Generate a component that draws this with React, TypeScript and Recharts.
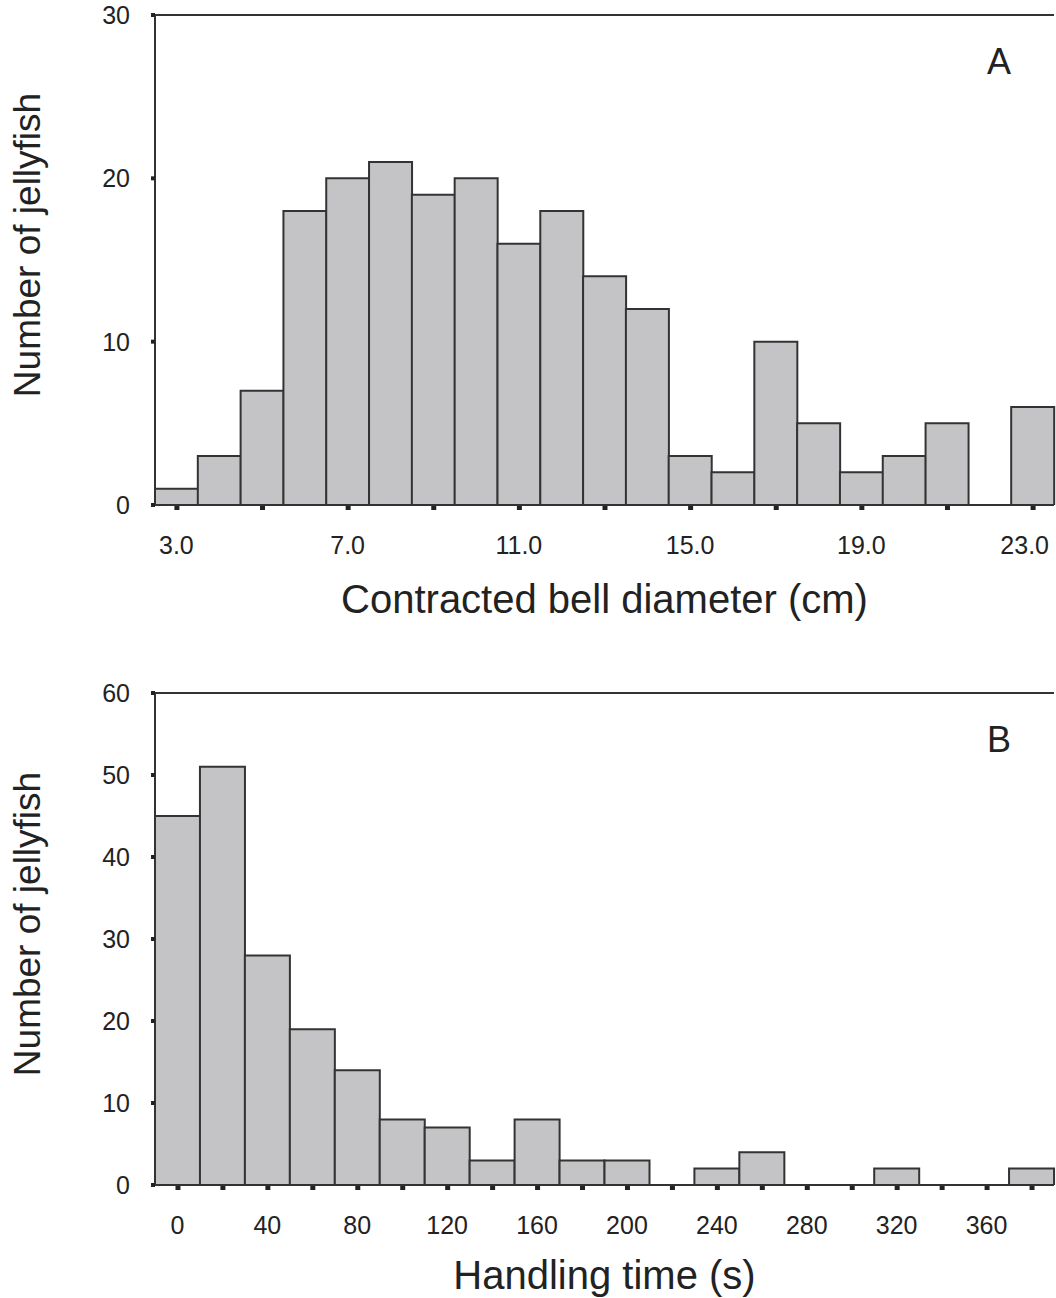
import React from 'react';
import { BarChart, Bar, XAxis, YAxis, ReferenceLine, Label } from 'recharts';

// Panel A: contracted bell diameter, 1 cm bins
const diameterBins = [3, 4, 5, 6, 7, 8, 9, 10, 11, 12, 13, 14, 15, 16, 17, 18, 19, 20, 21, 22, 23];
const diameterCounts = [1, 3, 7, 18, 20, 21, 19, 20, 16, 18, 14, 12, 3, 2, 10, 5, 2, 3, 5, 0, 6];
const diameterTicksY = [0, 10, 20, 30];

// Panel B: handling time, 20 s bins
const handlingBins = [0, 20, 40, 60, 80, 100, 120, 140, 160, 180, 200, 220, 240, 260, 280, 300, 320, 340, 360, 380];
const handlingCounts = [45, 51, 28, 19, 14, 8, 7, 3, 8, 3, 3, 0, 2, 4, 0, 0, 2, 0, 0, 2];
const handlingTicksY = [0, 10, 20, 30, 40, 50, 60];

const FONT = '"Liberation Sans", Arial, sans-serif';
const INK = '#222';
const BAR_FILL = '#c4c4c6';
const BAR_STROKE = '#333';
const TICK_FONT = 25;

const diameterData = diameterBins.map((bin, i) => ({ bin, count: diameterCounts[i] }));
const handlingData = handlingBins.map((bin, i) => ({ bin, count: handlingCounts[i] }));

const makeTick = (markEvery: number, labelEvery: number, digits: number) => (props: any) => {
  const { x, y, payload, index } = props;
  const label = Number(payload.value).toFixed(digits);
  // rough text width, keeps the last label inside the page like in the figure
  const halfW = (label.length * 0.52 * TICK_FONT) / 2;
  const overflow = x + halfW > 1050;
  return (
    <g>
      {index % markEvery === 0 && <rect x={x - 2} y={y + 1} width={5} height={4} fill={INK} />}
      {index % labelEvery === 0 && (
        <text
          x={overflow ? 1049 : x}
          y={y + 40}
          textAnchor={overflow ? 'end' : 'middle'}
          dominantBaseline="central"
          fontSize={TICK_FONT}
          fill={INK}
          fontFamily={FONT}
        >
          {label}
        </text>
      )}
    </g>
  );
};

const xTitle = (text: string, dy: number) => (props: any) => {
  const vb = props.viewBox;
  return (
    <text x={vb.x + vb.width / 2} y={vb.y + dy} textAnchor="middle" dominantBaseline="central" fontSize={40} fill={INK} fontFamily={FONT}>
      {text}
    </text>
  );
};

const yTitle = (props: any) => {
  const vb = props.viewBox;
  const cx = 27;
  const cy = vb.y + vb.height / 2 - 15;
  return (
    <text x={cx} y={cy} transform={`rotate(-90, ${cx}, ${cy})`} textAnchor="middle" dominantBaseline="central" fontSize={37} fill={INK} fontFamily={FONT}>
      Number of jellyfish
    </text>
  );
};

interface PanelProps {
  data: { bin: number; count: number }[];
  yMax: number;
  yTicks: number[];
  height: number;
  plotHeight: number;
  tick: (p: any) => React.ReactElement;
  title: string;
  titleDy: number;
}

const Panel: React.FC<PanelProps> = ({ data, yMax, yTicks, height, plotHeight, tick, title, titleDy }) => (
  <BarChart
    width={1056}
    height={height}
    data={data}
    margin={{ top: 15, right: 2, bottom: 0, left: 0 }}
    barCategoryGap={0}
    barGap={0}
  >
    <XAxis
      dataKey="bin"
      interval={0}
      height={height - 15 - plotHeight}
      axisLine={{ stroke: BAR_STROKE, strokeWidth: 2 }}
      tickLine={false}
      tickSize={0}
      tickMargin={0}
      tick={tick}
    >
      <Label content={xTitle(title, titleDy)} />
    </XAxis>
    <YAxis
      domain={[0, yMax]}
      ticks={yTicks}
      allowDataOverflow
      width={155}
      axisLine={{ stroke: BAR_STROKE, strokeWidth: 2 }}
      tickLine={{ stroke: INK, strokeWidth: 4 }}
      tickSize={4}
      tickMargin={21}
      tick={{ fontSize: 25, fill: INK, fontFamily: FONT }}
    >
      <Label content={yTitle} />
    </YAxis>
    <YAxis yAxisId="frame" orientation="right" width={0} tick={false} tickLine={false} axisLine={{ stroke: '#888', strokeWidth: 2 }} />
    <ReferenceLine y={yMax} stroke={BAR_STROKE} strokeWidth={2} ifOverflow="visible" />
    <Bar dataKey="count" fill={BAR_FILL} stroke={BAR_STROKE} strokeWidth={2} isAnimationActive={false} />
  </BarChart>
);

const letterStyle: React.CSSProperties = {
  position: 'absolute',
  fontFamily: FONT,
  fontSize: 36,
  color: INK,
  lineHeight: '36px',
};

export default function App() {
  return (
    <div style={{ position: 'absolute', left: 0, top: 0, width: 1056, height: 1298, background: '#fff' }}>
      <div style={{ position: 'absolute', left: 0, top: 0 }}>
        <Panel
          data={diameterData}
          yMax={30}
          yTicks={diameterTicksY}
          height={640}
          plotHeight={490}
          tick={makeTick(2, 4, 1)}
          title="Contracted bell diameter (cm)"
          titleDy={94}
        />
      </div>
      <div style={{ position: 'absolute', left: 0, top: 678 }}>
        <Panel
          data={handlingData}
          yMax={60}
          yTicks={handlingTicksY}
          height={620}
          plotHeight={492}
          tick={makeTick(1, 2, 0)}
          title="Handling time (s)"
          titleDy={90}
        />
      </div>
      <div style={{ ...letterStyle, left: 987, top: 44 }}>A</div>
      <div style={{ ...letterStyle, left: 987, top: 722 }}>B</div>
    </div>
  );
}
